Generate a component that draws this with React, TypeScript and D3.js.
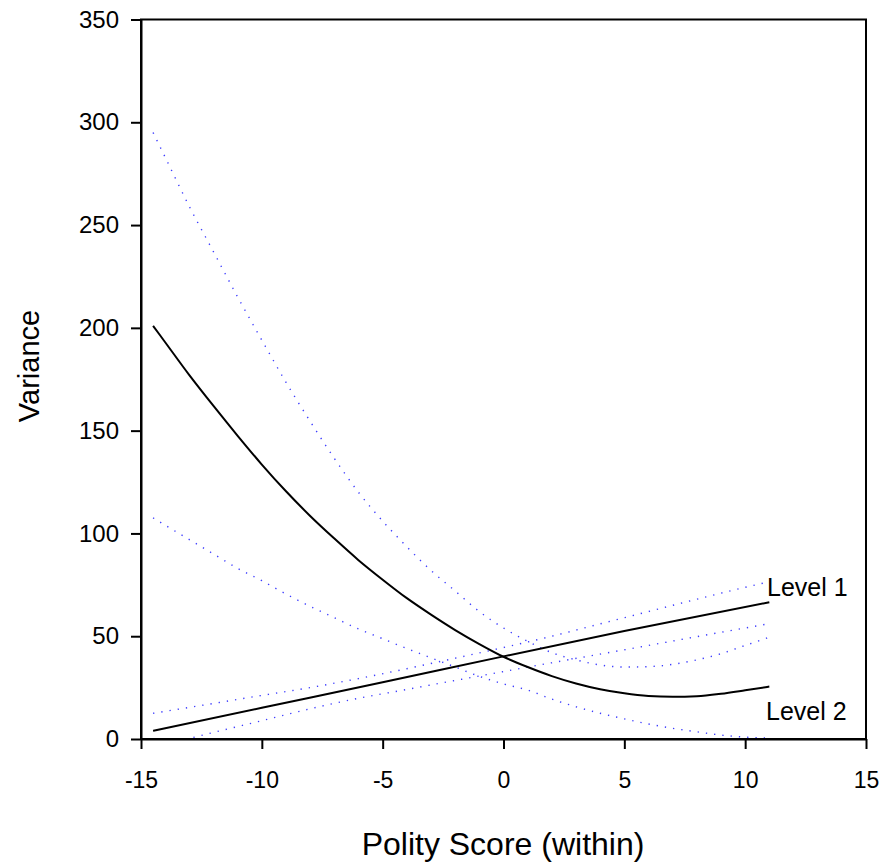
import React, { useEffect, useRef } from 'react'
import * as d3 from 'd3'

const level1X = [-14.5, -10, -5, 0, 5, 11]
const level1Y = [4, 15.2, 27.6, 40.2, 52.5, 66.5]

const level1UpperX = [-14.5, -12, -10, -8, -6, -4, -2, 0, 2, 4, 6, 8, 10, 11]
const level1UpperY = [12.5, 17.3, 21.2, 25, 29.4, 34.2, 39.3, 44.5, 50, 56, 62, 68, 73.8, 76.5]

const level1LowerX = [-14.5, -14, -12, -10, -8, -6, -4, -2, 0, 2, 4, 6, 8, 10, 11]
const level1LowerY = [-4, -2.6, 3.2, 8.9, 14.7, 19.8, 24.1, 28.5, 32.8, 37.1, 41.3, 45.5, 49.8, 54, 56.1]

const stepX = [-14.5, -14, -13, -12, -11, -10, -9, -8, -7, -6, -5, -4, -3, -2, -1, 0, 1, 2, 3, 4, 5, 6, 7, 8, 9, 10, 11]
const level2Y = [201, 193, 177, 162, 147.5, 133.5, 120.5, 108.5, 97.5, 87, 77.5, 68.5, 60.5, 53, 46.2, 40, 35, 30.6, 27, 24.2, 22.2, 20.9, 20.5, 20.8, 22, 23.7, 25.5]
const level2UpperY = [295, 283, 259, 237, 215, 194, 173.5, 154.5, 136.5, 120, 106, 93.5, 82, 72, 62, 54, 47.5, 42, 38.5, 36, 35, 35.2, 36.3, 38.5, 41.5, 45.5, 49.5]
const level2LowerY = [107.6, 104, 97, 90, 83, 77, 70.5, 64.5, 59, 53.5, 48.8, 44, 39.5, 35, 30.5, 26.8, 23.8, 19.4, 15.7, 12.5, 9.8, 7.3, 5.2, 3.5, 1.9, 0.9, 0.4]

const xTicks = [-15, -10, -5, 0, 5, 10, 15]
const yTicks = [0, 50, 100, 150, 200, 250, 300, 350]

function zip(xs: number[], ys: number[]) {
    return xs.map((x, i) => ({ x, y: ys[i] }))
}

function VarianceChart() {
    const ref = useRef<SVGSVGElement>(null)

    useEffect(() => {
        document.body.style.margin = '0'
        const svg = d3.select(ref.current)
        svg.selectAll('*').remove()

        const left = 141, right = 866, top = 19.5, bottom = 739
        const x = d3.scaleLinear().domain([-15, 15]).range([left, right])
        const y = d3.scaleLinear().domain([0, 350]).range([bottom, top])
        const font = "'Liberation Sans', Arial, sans-serif"

        svg.append('clipPath').attr('id', 'plot-clip')
            .append('rect')
            .attr('x', left).attr('y', top)
            .attr('width', right - left).attr('height', bottom - top)

        const line = d3.line<{ x: number, y: number }>()
            .x(d => x(d.x))
            .y(d => y(d.y))
            .curve(d3.curveMonotoneX)

        const plot = svg.append('g').attr('clip-path', 'url(#plot-clip)')

        // confidence bands, blue dotted
        const bands = [
            zip(level1UpperX, level1UpperY),
            zip(level1LowerX, level1LowerY),
            zip(stepX, level2UpperY),
            zip(stepX, level2LowerY),
        ]
        bands.forEach(b => {
            plot.append('path')
                .attr('d', line(b))
                .attr('fill', 'none')
                .attr('stroke', '#3c3cff')
                .attr('stroke-width', 1.4)
                .attr('stroke-dasharray', '1.3 7')
        })

        // estimates, solid black
        const estimates = [zip(level1X, level1Y), zip(stepX, level2Y)]
        estimates.forEach(e => {
            plot.append('path')
                .attr('d', line(e))
                .attr('fill', 'none')
                .attr('stroke', '#000')
                .attr('stroke-width', 2)
        })

        // frame
        svg.append('rect')
            .attr('x', left).attr('y', top)
            .attr('width', right - left).attr('height', bottom - top)
            .attr('fill', 'none')
            .attr('stroke', '#000')
            .attr('stroke-width', 2)

        const xAxis = svg.append('g')
            .attr('transform', `translate(0,${bottom})`)
            .call(d3.axisBottom(x).tickValues(xTicks).tickSize(10).tickSizeOuter(0).tickFormat(d => String(d)))
        xAxis.select('.domain').attr('stroke-width', 2)
        xAxis.selectAll('.tick line').attr('stroke-width', 2)
        xAxis.selectAll('.tick text')
            .attr('y', 41)
            .attr('dy', '0.35em')
            .style('font-family', font)
            .style('font-size', '23px')
            .attr('fill', '#000')

        const yAxis = svg.append('g')
            .attr('transform', `translate(${left},0)`)
            .call(d3.axisLeft(y).tickValues(yTicks).tickSize(10).tickSizeOuter(0).tickFormat(d => String(d)))
        yAxis.select('.domain').attr('stroke-width', 2)
        yAxis.selectAll('.tick line').attr('stroke-width', 2)
        yAxis.selectAll('.tick text')
            .attr('x', -22)
            .style('font-family', font)
            .style('font-size', '24px')
            .attr('fill', '#000')

        svg.append('text')
            .attr('transform', `translate(39,366) rotate(-90)`)
            .attr('text-anchor', 'middle')
            .style('font-family', font)
            .style('font-size', '29px')
            .text('Variance')

        svg.append('text')
            .attr('x', 503)
            .attr('y', 855)
            .attr('text-anchor', 'middle')
            .style('font-family', font)
            .style('font-size', '32px')
            .text('Polity Score (within)')

        svg.append('text')
            .attr('x', 767).attr('y', 596)
            .style('font-family', font)
            .style('font-size', '25px')
            .text('Level 1')

        svg.append('text')
            .attr('x', 766).attr('y', 720)
            .style('font-family', font)
            .style('font-size', '25px')
            .text('Level 2')
    }, [])

    return <svg ref={ref} width={884} height={868} style={{ display: 'block', background: '#fff' }}></svg>
}

export default function App() {
    return <VarianceChart />
}
